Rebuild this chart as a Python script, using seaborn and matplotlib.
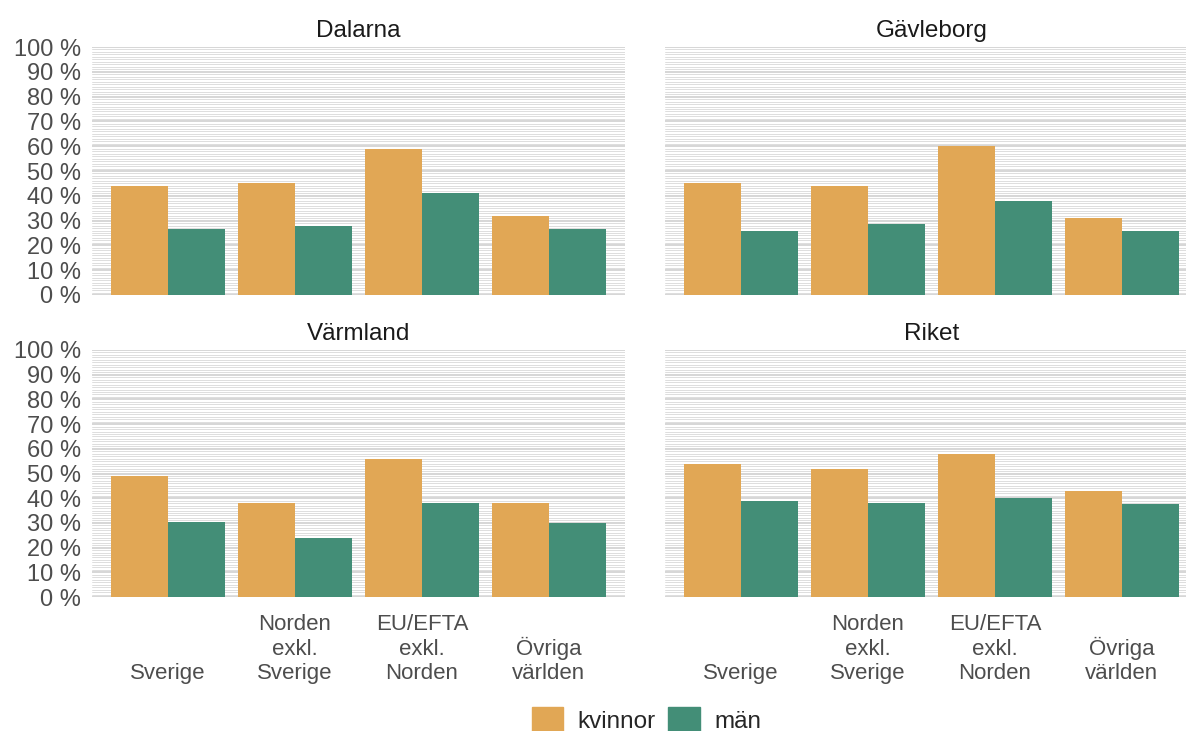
# Andel sysselsatta per födelseregion, kvinnor och män
import seaborn as sns
import matplotlib.pyplot as plt
import matplotlib.patches as mpatches
import pandas as pd
import numpy as np

regioner = ['Dalarna', 'Gävleborg', 'Värmland', 'Riket']
kategorier = ['Sverige', 'Norden exkl. Sverige', 'EU/EFTA exkl. Norden', 'Övriga världen']
etiketter = ['Sverige', 'Norden\nexkl.\nSverige', 'EU/EFTA\nexkl.\nNorden', 'Övriga\nvärlden']
kon = ['kvinnor', 'män']

kvinnor = {
    'Dalarna':   [44, 45, 59, 32],
    'Gävleborg': [45, 44, 60, 31],
    'Värmland':  [49, 38, 56, 38],
    'Riket':     [54, 52, 58, 43],
}
man = {
    'Dalarna':   [26.5, 28, 41, 26.5],
    'Gävleborg': [26, 28.5, 38, 26],
    'Värmland':  [30.5, 24, 38, 30],
    'Riket':     [39, 38, 40, 37.5],
}

farger = {'kvinnor': '#E1A755', 'män': '#438E77'}

rows = []
for r in regioner:
    for i, k in enumerate(kategorier):
        rows.append((r, k, 'kvinnor', kvinnor[r][i]))
        rows.append((r, k, 'män', man[r][i]))
df = pd.DataFrame(rows, columns=['region', 'kategori', 'kon', 'andel'])

sns.set_theme(style='white')
plt.rcParams['font.family'] = ['Liberation Sans', 'DejaVu Sans']

W, H = 1186, 731
fig = plt.figure(figsize=(W / 100, H / 100), dpi=100)

# panelernas placering i pixlar: (vänster, nederkant y, bredd, höjd)
pos = {
    'Dalarna':   (92, 295, 533, 248),
    'Gävleborg': (665, 295, 533, 248),
    'Värmland':  (92, 597, 533, 247),
    'Riket':     (665, 597, 533, 247),
}

for idx, r in enumerate(regioner):
    x0, yb, w, h = pos[r]
    ax = fig.add_axes([x0 / W, (H - yb) / H, w / W, h / H])
    sns.barplot(data=df[df.region == r], x='kategori', y='andel', hue='kon',
                order=kategorier, hue_order=kon, palette=farger,
                width=0.9, gap=0, saturation=1, ax=ax, legend=False,
                edgecolor='none', linewidth=0, errorbar=None)
    ax.set_xlim(-0.6, 3.6)
    ax.set_ylim(0, 100)
    ax.set_yticks(np.arange(0, 101, 10))
    ax.set_yticks(np.arange(0, 101, 1), minor=True)
    ax.grid(axis='y', which='major', color='#cccccc', lw=1.1)
    ax.grid(axis='y', which='minor', color='#d8d8d8', lw=0.6)
    ax.set_axisbelow(True)
    for s in ax.spines.values():
        s.set_visible(False)
    ax.tick_params(axis='both', which='both', length=0)
    ax.set_xlabel('')
    ax.set_ylabel('')
    ax.set_title(r, fontsize=17.5, color='#1a1a1a', pad=7)
    if idx % 2 == 0:
        ax.set_yticklabels([f'{v} %' for v in range(0, 101, 10)],
                           fontsize=17, color='#4d4d4d')
        ax.tick_params(axis='y', pad=8)
    else:
        ax.set_yticklabels([])
    if idx >= 2:
        ax.set_xticks(range(4))
        ax.set_xticklabels(etiketter, fontsize=16, color='#4d4d4d', linespacing=1.2)
        # etiketterna bottenjusteras som i originalet
        for lab in ax.get_xticklabels():
            lab.set_verticalalignment('bottom')
        ax.tick_params(axis='x', pad=62.5)
    else:
        ax.set_xticklabels([])

handles = [mpatches.Patch(color=farger[k], label=k) for k in kon]
fig.legend(handles=handles, loc='lower center', bbox_to_anchor=(0.545, -0.033),
           ncol=2, frameon=False, fontsize=17.5, handlelength=1.3, handleheight=1.3,
           handletextpad=0.6, columnspacing=0.5)

fig.savefig('out.png', dpi=100)
